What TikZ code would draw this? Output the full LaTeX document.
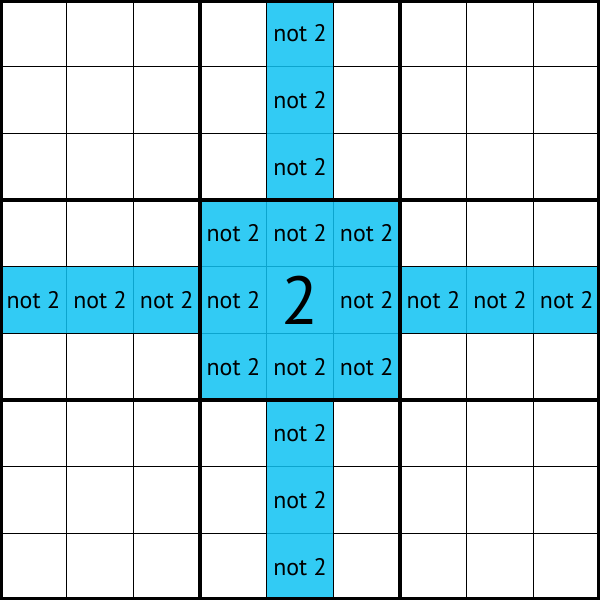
\documentclass[tikz,border=0pt]{standalone}
\usepackage{fontspec}
\setmainfont{PT Sans}
\definecolor{cy}{RGB}{15,195,243}
\tikzset{
  cell/.style={fill=cy,fill opacity=0.85,draw=none},
  thin/.style={line width=0.5pt,black},
  thick/.style={line width=1.3pt,black},
  lbl/.style={font=\fontsize{10.2}{11}\selectfont,text=black,inner sep=0pt},
  big/.style={font=\fontsize{29}{30}\selectfont,text=black,inner sep=0pt}
}
\begin{document}
\begin{tikzpicture}
\useasboundingbox (0,0) rectangle (9,9);
\clip (0,0) rectangle (9,9);
\fill[white] (0,0) rectangle (9,9);
% thin grid
\foreach \i in {1,2,4,5,7,8} {
  \draw[thin] (\i,0) -- (\i,9);
  \draw[thin] (0,\i) -- (9,\i);
}
% cyan cells
\fill[cell] (4,0) rectangle (5,9);
\fill[cell] (0,4) rectangle (4,5);
\fill[cell] (5,4) rectangle (9,5);
\fill[cell] (3,3) rectangle (4,4);
\fill[cell] (3,5) rectangle (4,6);
\fill[cell] (5,3) rectangle (6,4);
\fill[cell] (5,5) rectangle (6,6);
% thick lines
\foreach \i in {3,6} {
  \draw[thick] (\i,0) -- (\i,9);
  \draw[thick] (0,\i) -- (9,\i);
}
\draw[line width=2.6pt] (0,0) rectangle (9,9);
% labels: column
\foreach \r in {0,1,2,3,5,6,7,8} {
  \node[lbl] (c\r) at (4.5,8.5-\r) {not 2};
}
\foreach \c in {0,1,2,3,5,6,7,8} {
  \node[lbl] (r\c) at (\c+0.5,4.5) {not 2};
}
\node[lbl] (b1) at (3.5,5.5) {not 2};
\node[lbl] (b2) at (5.5,5.5) {not 2};
\node[lbl] (b3) at (3.5,3.5) {not 2};
\node[lbl] (b4) at (5.5,3.5) {not 2};
\node[big] (two) at (4.5,4.5) {2};
\end{tikzpicture}
\end{document}
